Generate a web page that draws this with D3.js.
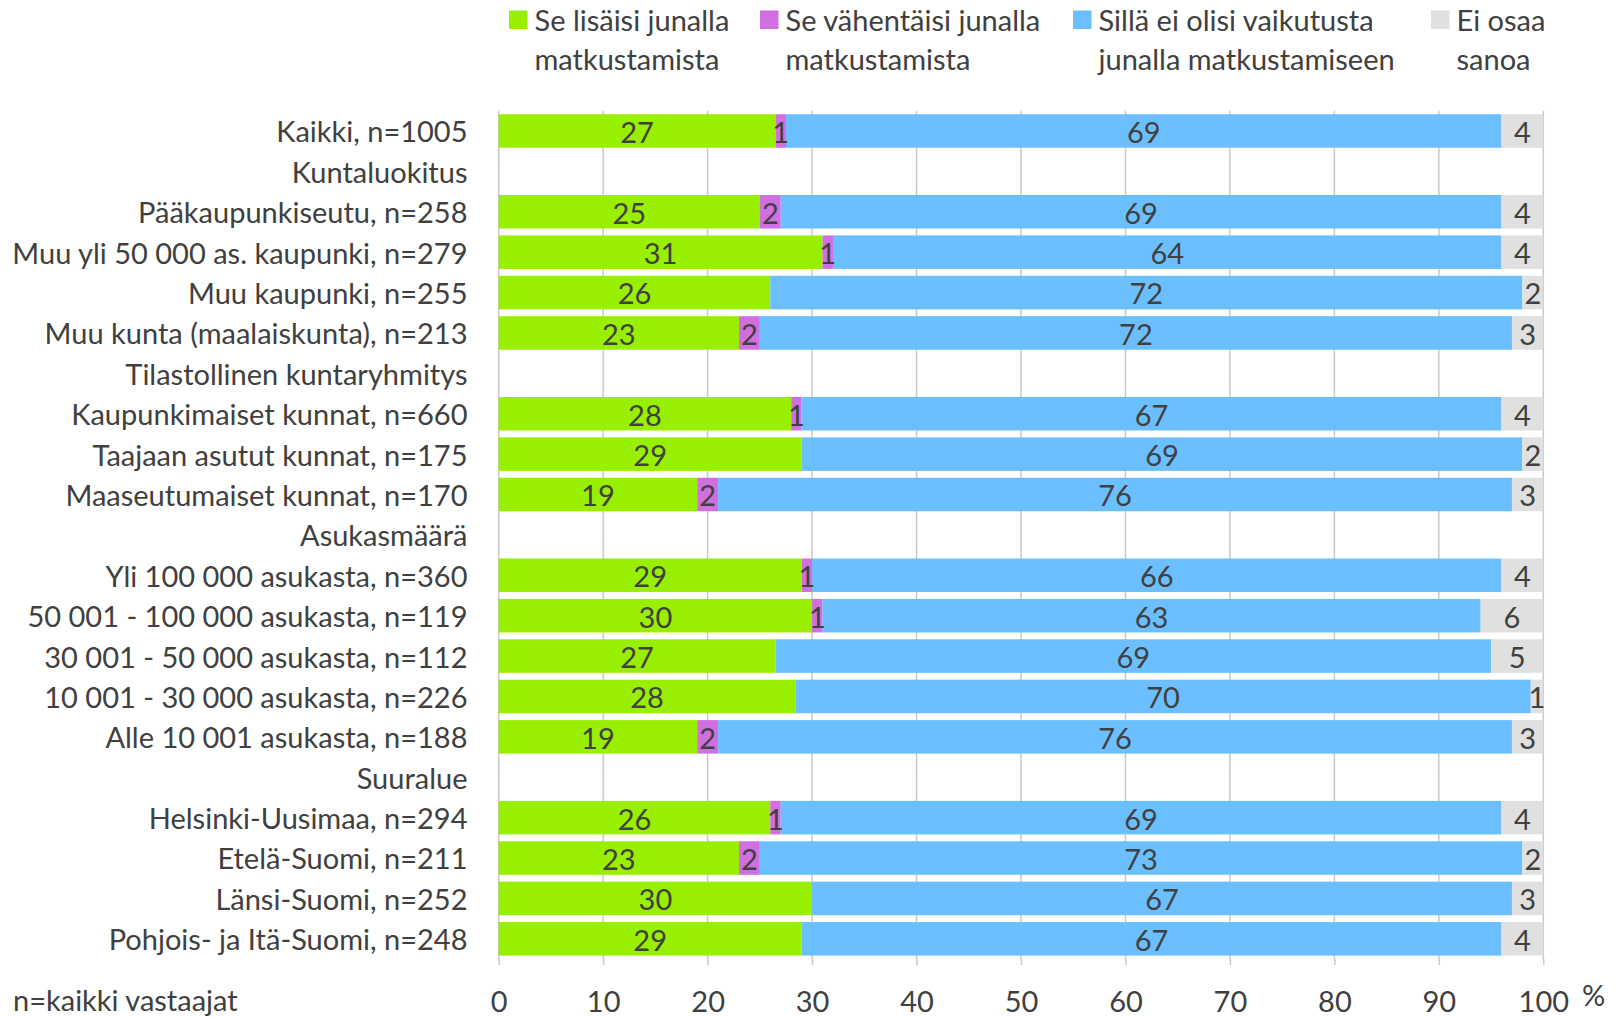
<!DOCTYPE html>
<html>
<head>
<meta charset="utf-8">
<script src="https://cdn.jsdelivr.net/npm/d3@7/dist/d3.min.js"></script>
<style>
  html, body { margin: 0; padding: 0; background: #ffffff; }
  svg { display: block; }
  text { font-family: Lato, "Open Sans", sans-serif; fill: #404040; }
</style>
</head>
<body>
<svg id="chart" width="1619" height="1017"></svg>
<script>
// ---- Data ----
const categories = [
  "Kaikki, n=1005",
  "Kuntaluokitus",
  "Pääkaupunkiseutu, n=258",
  "Muu yli 50 000 as. kaupunki, n=279",
  "Muu kaupunki, n=255",
  "Muu kunta (maalaiskunta), n=213",
  "Tilastollinen kuntaryhmitys",
  "Kaupunkimaiset kunnat, n=660",
  "Taajaan asutut kunnat, n=175",
  "Maaseutumaiset kunnat, n=170",
  "Asukasmäärä",
  "Yli 100 000 asukasta, n=360",
  "50 001 - 100 000 asukasta, n=119",
  "30 001 - 50 000 asukasta, n=112",
  "10 001 - 30 000 asukasta, n=226",
  "Alle 10 001 asukasta, n=188",
  "Suuralue",
  "Helsinki-Uusimaa, n=294",
  "Etelä-Suomi, n=211",
  "Länsi-Suomi, n=252",
  "Pohjois- ja Itä-Suomi, n=248"
];

const seriesNames = [
  "Se lisäisi junalla matkustamista",
  "Se vähentäisi junalla matkustamista",
  "Sillä ei olisi vaikutusta junalla matkustamiseen",
  "Ei osaa sanoa"
];
const legendLines = [
  ["Se lisäisi junalla", "matkustamista"],
  ["Se vähentäisi junalla", "matkustamista"],
  ["Sillä ei olisi vaikutusta", "junalla matkustamiseen"],
  ["Ei osaa", "sanoa"]
];
const seriesColors = ["#99ef00", "#d16fe0", "#6bbfff", "#e0e0e0"];

// null = group heading row (no bar)
const lisaisi    = [26.5, null, 25, 31, 26, 23, null, 28, 29, 19, null, 29, 30, 26.5, 28.4, 19, null, 26, 23, 30, 29];
const vahentaisi = [1,    null, 2,  1,  0,  2,  null, 1,  0,  2,  null, 1,  1,  0,    0,    2,  null, 1,  2,  0,  0];
const eiVaikutusta = [68.5, null, 69, 64, 72, 72, null, 67, 69, 76, null, 66, 63, 68.5, 70.4, 76, null, 69, 73, 67, 67];
const eiOsaa     = [4,    null, 4,  4,  2,  3,  null, 4,  2,  3,  null, 4,  6,  5,    1.2,  3,  null, 4,  2,  3,  4];

const xTicks = [0, 10, 20, 30, 40, 50, 60, 70, 80, 90, 100];
const footnote = "n=kaikki vastaajat";
const unitLabel = "%";

// ---- Build table ----
const seriesValues = [lisaisi, vahentaisi, eiVaikutusta, eiOsaa];
const keys = ["s0", "s1", "s2", "s3"];
const rows = categories.map((c, i) => {
  const r = { cat: c, heading: lisaisi[i] === null };
  keys.forEach((k, j) => r[k] = seriesValues[j][i] === null ? 0 : seriesValues[j][i]);
  return r;
});

// ---- Layout ----
const svg = d3.select("#chart");
const x = d3.scaleLinear().domain([0, 100]).range([498.7, 1543.3]);
const y = d3.scaleBand().domain(categories).range([110.8, 959])
  .paddingInner(0.17).paddingOuter(0.085);

const FS = 29;

// gridlines
svg.append("g").selectAll("line").data(xTicks).join("line")
  .attr("x1", d => x(d)).attr("x2", d => x(d))
  .attr("y1", 110.8).attr("y2", 959)
  .attr("stroke", "#c9c9c9").attr("stroke-width", 1.5);

// bars
const stack = d3.stack().keys(keys);
const stacked = stack(rows.filter(r => !r.heading));
const barG = svg.append("g");
stacked.forEach((layer, li) => {
  barG.append("g").selectAll("rect").data(layer.filter(d => d[1] - d[0] > 0)).join("rect")
    .attr("x", d => x(d[0]))
    .attr("width", d => x(d[1]) - x(d[0]))
    .attr("y", d => y(d.data.cat))
    .attr("height", y.bandwidth())
    .attr("fill", seriesColors[li]);
});
// labels
stacked.forEach((layer, li) => {
  barG.append("g").selectAll("text").data(layer.filter(d => d[1] - d[0] > 0)).join("text")
    .attr("x", d => (x(d[0]) + x(d[1])) / 2)
    .attr("y", d => y(d.data.cat) + y.bandwidth() / 2 + 1.5)
    .attr("dy", "0.36em")
    .attr("text-anchor", "middle")
    .style("font-size", FS + "px")
    .text(d => Math.round(d[1] - d[0]));
});

// category labels
svg.append("g").selectAll("text").data(categories).join("text")
  .attr("x", 467.5)
  .attr("y", d => y(d) + y.bandwidth() / 2 + 1)
  .attr("dy", "0.36em")
  .attr("text-anchor", "end")
  .style("font-size", FS + "px")
  .text(d => d);

// x axis
const axis = d3.axisBottom(x).tickValues(xTicks).tickSize(6).tickPadding(26).tickFormat(d3.format("d"));
const axG = svg.append("g").attr("transform", "translate(0,959)").call(axis);
axG.select(".domain").remove();
axG.selectAll(".tick line").attr("stroke", "#c9c9c9").attr("stroke-width", 1.5);
axG.selectAll(".tick text").style("font-size", FS + "px").style("font-family", "Lato, sans-serif").attr("fill", "#404040");

svg.append("text").attr("x", 1582).attr("y", 1006).style("font-size", FS + "px").text(unitLabel);
svg.append("text").attr("x", 13).attr("y", 1011).style("font-size", FS + "px").text(footnote);

// legend
const legendX = [509, 760, 1073, 1431];
const lg = svg.append("g");
seriesNames.forEach((n, i) => {
  const g = lg.append("g").attr("transform", `translate(${legendX[i]},0)`);
  g.append("rect").attr("x", 0).attr("y", 10.5).attr("width", 18.5).attr("height", 18.5).attr("fill", seriesColors[i]);
  legendLines[i].forEach((ln, k) => {
    g.append("text").attr("x", 25.5).attr("y", 21 + k * 38.5).attr("dy", "0.36em")
      .style("font-size", FS + "px").text(ln);
  });
});
</script>
</body>
</html>
